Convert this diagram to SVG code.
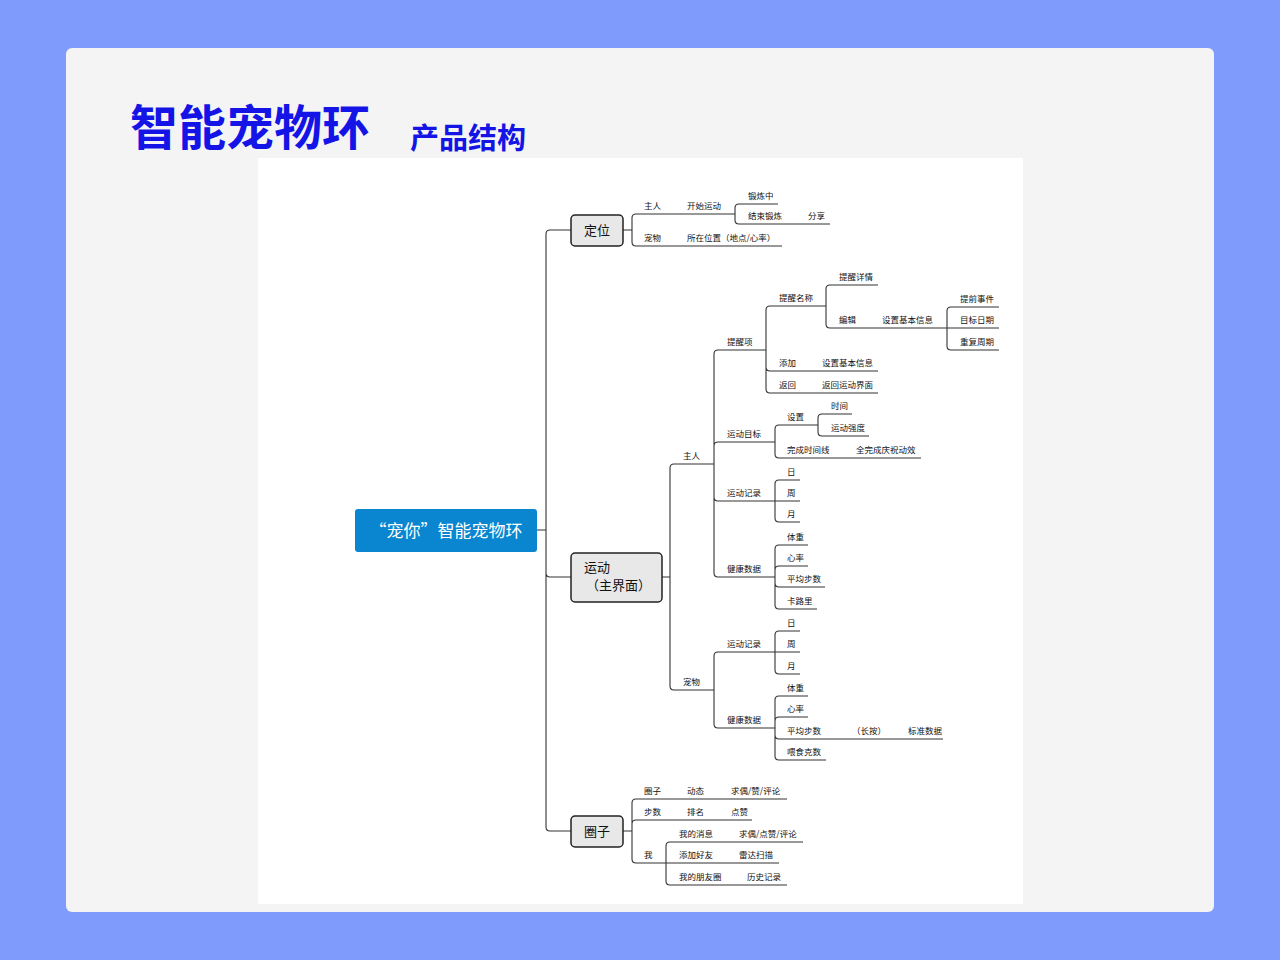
<svg xmlns="http://www.w3.org/2000/svg" width="1280" height="960" viewBox="0 0 1280 960">
<style>
.t{font-family:"Noto Sans CJK SC","Liberation Sans",sans-serif;font-size:8.5px;fill:#111}
.b{font-family:"Noto Sans CJK SC","Liberation Sans",sans-serif;font-size:13px;fill:#111}
.box{fill:#e8e8e8;stroke:#222;stroke-width:1.5}
#connectors path{fill:none;stroke:#333;stroke-width:1.1}
</style>
<rect width="1280" height="960" fill="#7f9bfc"/>
<rect x="66" y="48" width="1148" height="864" rx="6" fill="#f4f4f4"/>
<rect x="258" y="158" width="765" height="746" fill="#fff"/>
<text x="130" y="145" font-family="Noto Sans CJK SC,sans-serif" font-size="48" font-weight="bold" fill="#1414e6">智能宠物环</text>
<text x="410" y="149" font-family="Noto Sans CJK SC,sans-serif" font-size="29" font-weight="bold" fill="#1414e6">产品结构</text>
<g id="connectors">
<path d="M537 530 H546 M546 530 V234 Q546 230 550 230 H571 M546 530 V573 Q546 577 550 577 H571 M546 530 V827 Q546 831 550 831 H571"/>
<path d="M623 230 H632 V218 Q632 214 636 214 H735 M632 230 V242 Q632 246 636 246 H782"/>
<path d="M735 214 V208 Q735 204 739 204 H778 M735 214 V220 Q735 224 739 224 H830"/>
<path d="M662 577 H670 V468 Q670 464 674 464 H714 M670 577 V686 Q670 690 674 690 H714"/>
<path d="M714 464 V354 Q714 350 718 350 H766 M714 464 V446 Q714 442 718 442 H775 M714 464 V497 Q714 501 718 501 H775 M714 464 V573 Q714 577 718 577 H775"/>
<path d="M766 350 V310 Q766 306 770 306 H826 M766 350 V367 Q766 371 770 371 H878 M766 350 V389 Q766 393 770 393 H878"/>
<path d="M826 306 V289 Q826 285 830 285 H878 M826 306 V324 Q826 328 830 328 H947"/>
<path d="M947 328 V311 Q947 307 951 307 H999 M947 328 H999 M947 328 V346 Q947 350 951 350 H999"/>
<path d="M775 442 V429 Q775 425 779 425 H818 M775 442 V454 Q775 458 779 458 H921"/>
<path d="M818 425 V418 Q818 414 822 414 H852 M818 425 V432 Q818 436 822 436 H869"/>
<path d="M775 501 V484 Q775 480 779 480 H800 M775 501 H800 M775 501 V518 Q775 522 779 522 H800"/>
<path d="M775 577 V549 Q775 545 779 545 H808 M775 577 V570 Q775 566 779 566 H808 M775 577 V583 Q775 587 779 587 H825 M775 577 V605 Q775 609 779 609 H817"/>
<path d="M714 690 V656 Q714 652 718 652 H775 M714 690 V724 Q714 728 718 728 H775"/>
<path d="M775 652 V635 Q775 631 779 631 H800 M775 652 H800 M775 652 V670 Q775 674 779 674 H800"/>
<path d="M775 728 V700 Q775 696 779 696 H808 M775 728 V721 Q775 717 779 717 H808 M775 728 V735 Q775 739 779 739 H943 M775 728 V756 Q775 760 779 760 H826"/>
<path d="M623 831 H632 V803 Q632 799 636 799 H787 M632 831 V824 Q632 820 636 820 H752 M632 831 V859 Q632 863 636 863 H666"/>
<path d="M666 863 V846 Q666 842 670 842 H803 M666 863 H779 M666 863 V881 Q666 885 670 885 H787"/>
</g>
<g id="root"><rect x="355" y="509" width="182" height="43" rx="3" fill="#0a86d0"/><text x="446" y="537" text-anchor="middle" font-family="Noto Sans CJK SC,sans-serif" font-size="17" fill="#fff">“宠你”智能宠物环</text></g>
<g id="n-dingwei"><rect class="box" x="571" y="215" width="52" height="31" rx="4"/><text class="b" x="597" y="235" text-anchor="middle">定位</text></g>
<g id="n-yundong"><rect class="box" x="571" y="553" width="91" height="49" rx="4"/><text class="b" x="584" y="572">运动</text><text class="b" x="586" y="590">（主界面）</text></g>
<g id="n-quanzi"><rect class="box" x="571" y="816" width="52" height="31" rx="4"/><text class="b" x="597" y="836" text-anchor="middle">圈子</text></g>
<g id="labels">
<text class="t" x="644" y="209">主人</text><text class="t" x="687" y="209">开始运动</text><text class="t" x="748" y="199">锻炼中</text><text class="t" x="748" y="219">结束锻炼</text><text class="t" x="808" y="219">分享</text>
<text class="t" x="644" y="241">宠物</text><text class="t" x="687" y="241">所在位置（地点/心率）</text>
<text class="t" x="683" y="459">主人</text><text class="t" x="683" y="685">宠物</text>
<text class="t" x="727" y="345">提醒项</text><text class="t" x="727" y="437">运动目标</text><text class="t" x="727" y="496">运动记录</text><text class="t" x="727" y="572">健康数据</text>
<text class="t" x="779" y="301">提醒名称</text><text class="t" x="779" y="366">添加</text><text class="t" x="822" y="366">设置基本信息</text><text class="t" x="779" y="388">返回</text><text class="t" x="822" y="388">返回运动界面</text>
<text class="t" x="839" y="280">提醒详情</text><text class="t" x="839" y="323">编辑</text><text class="t" x="882" y="323">设置基本信息</text>
<text class="t" x="960" y="302">提前事件</text><text class="t" x="960" y="323">目标日期</text><text class="t" x="960" y="345">重复周期</text>
<text class="t" x="787" y="420">设置</text><text class="t" x="787" y="453">完成时间线</text><text class="t" x="856" y="453">全完成庆祝动效</text>
<text class="t" x="831" y="409">时间</text><text class="t" x="831" y="431">运动强度</text>
<text class="t" x="787" y="475">日</text><text class="t" x="787" y="496">周</text><text class="t" x="787" y="517">月</text>
<text class="t" x="787" y="540">体重</text><text class="t" x="787" y="561">心率</text><text class="t" x="787" y="582">平均步数</text><text class="t" x="787" y="604">卡路里</text>
<text class="t" x="727" y="647">运动记录</text><text class="t" x="727" y="723">健康数据</text>
<text class="t" x="787" y="626">日</text><text class="t" x="787" y="647">周</text><text class="t" x="787" y="669">月</text>
<text class="t" x="787" y="691">体重</text><text class="t" x="787" y="712">心率</text><text class="t" x="787" y="734">平均步数</text><text class="t" x="852" y="734">（长按）</text><text class="t" x="908" y="734">标准数据</text><text class="t" x="787" y="755">喂食克数</text>
<text class="t" x="644" y="794">圈子</text><text class="t" x="687" y="794">动态</text><text class="t" x="731" y="794">求偶/赞/评论</text>
<text class="t" x="644" y="815">步数</text><text class="t" x="687" y="815">排名</text><text class="t" x="731" y="815">点赞</text>
<text class="t" x="644" y="858">我</text>
<text class="t" x="679" y="837">我的消息</text><text class="t" x="739" y="837">求偶/点赞/评论</text><text class="t" x="679" y="858">添加好友</text><text class="t" x="739" y="858">雷达扫描</text><text class="t" x="679" y="880">我的朋友圈</text><text class="t" x="747" y="880">历史记录</text>
</g>
</svg>
